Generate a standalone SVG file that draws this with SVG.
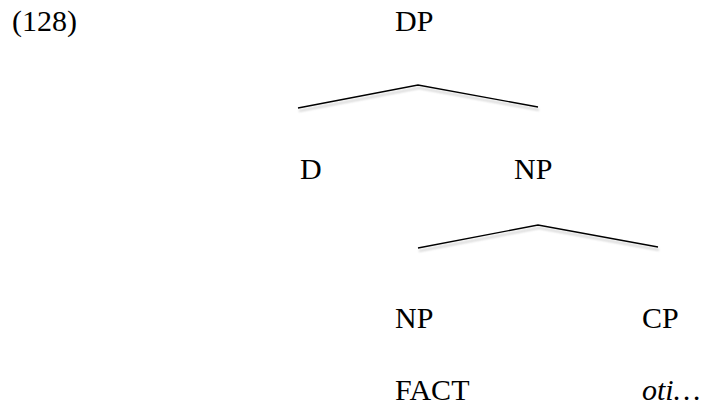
<svg xmlns="http://www.w3.org/2000/svg" width="708" height="407" viewBox="0 0 708 407">
  <style>
    .lbl { font-family: "Liberation Serif", "Times New Roman", "DejaVu Serif", serif; font-size: 30px; fill: #000; }
    .it { font-style: italic; }
    .branch { fill: none; stroke: #000; stroke-width: 1.3; }
    .shade { fill: none; stroke: #9a9a9a; stroke-width: 1.6; opacity: 0.55; filter: url(#soft); }
  </style>
  <defs>
    <filter id="soft" x="-5%" y="-50%" width="110%" height="200%">
      <feGaussianBlur stdDeviation="1"/>
    </filter>
  </defs>

  <text class="lbl" font-family="Liberation Serif, serif" x="12" y="31">(128)</text>

  <g id="connectors">
    <polyline class="shade" points="299,111 419,88 539,110"/>
    <polyline class="branch" points="298,108 418,85 538,107"/>
    <polyline class="shade" points="419,251 539,228 659,250"/>
    <polyline class="branch" points="418,248 538,225 658,247"/>
  </g>

  <g id="dp"><text class="lbl" font-family="Liberation Serif, serif" x="395" y="31">DP</text></g>
  <g id="d"><text class="lbl" font-family="Liberation Serif, serif" x="300" y="179">D</text></g>
  <g id="np-upper"><text class="lbl" font-family="Liberation Serif, serif" x="514" y="179">NP</text></g>
  <g id="np-lower"><text class="lbl" font-family="Liberation Serif, serif" x="395" y="328">NP</text></g>
  <g id="cp"><text class="lbl" font-family="Liberation Serif, serif" x="642" y="328">CP</text></g>
  <g id="fact"><text class="lbl" font-family="Liberation Serif, serif" x="395" y="400">FACT</text></g>
  <g id="oti"><text class="lbl it" font-family="Liberation Serif, serif" x="642" y="400">oti…</text></g>
</svg>
